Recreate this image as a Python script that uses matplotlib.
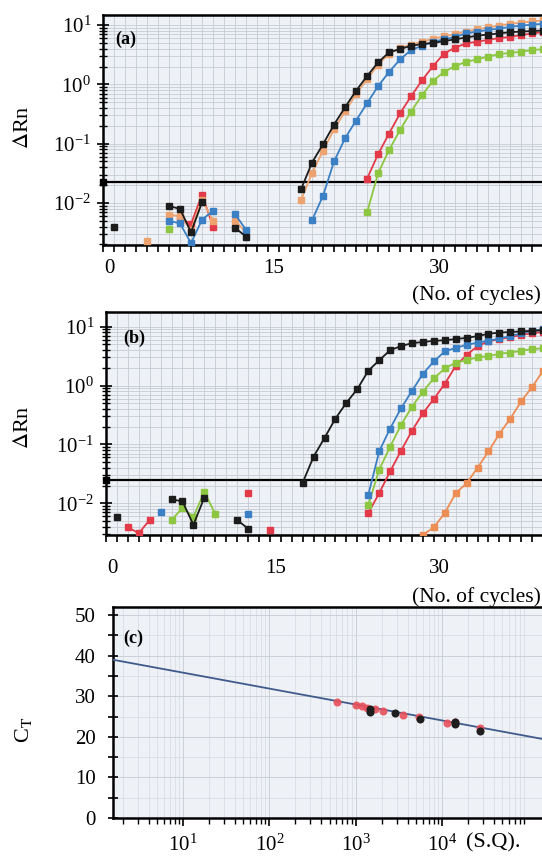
import numpy as np
import matplotlib
matplotlib.use('Agg')
import matplotlib.pyplot as plt
from matplotlib.ticker import LogLocator, NullFormatter, MultipleLocator, FixedLocator
import matplotlib.transforms as mtransforms

plt.rcParams['font.family'] = ['Liberation Serif', 'DejaVu Serif']
plt.rcParams['mathtext.fontset'] = 'stix'

nan = np.nan

# ---------------- data ----------------
cycles = [1, 2, 3, 4, 5, 6, 7, 8, 9, 10, 11, 12, 13, 14, 15, 16, 17, 18, 19, 20,
          21, 22, 23, 24, 25, 26, 27, 28, 29, 30, 31, 32, 33, 34, 35, 36, 37, 38, 39, 40]

# panel (a)  delta Rn per cycle (nan = not shown)
a_black = [0.0040, nan, nan, nan, nan, 0.0089, 0.0079, 0.0032, 0.0102, nan,
           nan, 0.0038, 0.0027, nan, nan, nan, nan, 0.017, 0.048, 0.098,
           0.21, 0.41, 0.78, 1.38, 2.34, 3.47, 3.94, 4.47, 4.79, 5.0,
           5.37, 5.75, 6.17, 6.61, 6.92, 7.24, 7.59, 7.76, 7.94, 8.1]
a_orange = [nan, nan, nan, 0.0023, nan, 0.0063, 0.0060, 0.0035, 0.0112, 0.0050,
            nan, 0.0050, 0.0032, nan, nan, nan, nan, 0.0112, 0.032, 0.076,
            0.174, 0.35, 0.68, 1.23, 2.14, 3.31, 4.07, 4.68, 5.25, 5.89,
            6.46, 7.08, 7.76, 8.51, 9.12, 9.77, 10.5, 11.0, 11.5, 12.0]
a_blue = [nan, nan, nan, nan, nan, 0.0050, 0.0045, 0.0021, 0.0052, 0.0074,
          nan, 0.0065, 0.0035, nan, nan, nan, nan, nan, 0.0051, 0.0132,
          0.050, 0.123, 0.245, 0.48, 0.93, 1.62, 2.63, 3.80, 4.47, 5.25,
          5.75, 6.31, 7.24, 7.76, 8.32, 8.71, 9.33, 9.77, 10.2, 10.5]
a_red = [nan, nan, nan, nan, nan, nan, 0.0056, 0.0044, 0.0138, 0.0040,
         nan, nan, nan, nan, nan, nan, nan, nan, nan, nan,
         nan, nan, nan, 0.0257, 0.066, 0.148, 0.324, 0.63, 1.17, 2.04,
         3.31, 4.17, 4.90, 5.25, 5.62, 6.03, 6.31, 6.76, 7.24, 7.6]
a_green = [nan, nan, nan, nan, nan, 0.0037, nan, nan, nan, nan,
           nan, nan, nan, nan, nan, nan, nan, nan, nan, nan,
           nan, nan, nan, 0.0069, 0.0316, 0.078, 0.170, 0.347, 0.66, 1.15,
           1.62, 2.04, 2.40, 2.63, 2.95, 3.24, 3.39, 3.55, 3.80, 3.9]
a_threshold = 0.0224

# panel (b)
b_black = [0.0058, nan, nan, nan, nan, 0.0117, 0.0107, 0.0043, 0.0125, nan,
           nan, 0.0052, 0.0037, nan, nan, nan, nan, 0.0224, 0.062, 0.129,
           0.275, 0.51, 0.87, 1.78, 2.69, 3.98, 4.68, 5.25, 5.50, 5.75,
           5.89, 6.17, 6.46, 6.92, 7.59, 7.94, 8.13, 8.32, 8.51, 8.7]
b_blue = [nan, nan, nan, nan, 0.0072, nan, nan, nan, nan, nan,
          nan, nan, 0.0065, nan, nan, nan, nan, nan, nan, nan,
          nan, nan, nan, 0.0138, 0.076, 0.186, 0.41, 0.81, 1.58, 2.57,
          3.80, 4.37, 4.90, 5.37, 5.75, 6.31, 6.92, 7.76, 8.51, 9.1]
b_green = [nan, nan, nan, nan, nan, 0.0052, 0.0083, 0.0059, 0.0155, 0.0066,
           nan, nan, nan, nan, nan, nan, nan, nan, nan, nan,
           nan, nan, nan, 0.0093, 0.037, 0.091, 0.214, 0.437, 0.79, 1.32,
           1.95, 2.45, 2.69, 3.02, 3.16, 3.47, 3.63, 3.89, 4.17, 4.3]
b_red = [nan, 0.0039, 0.0031, 0.0052, nan, nan, nan, nan, nan, nan,
         nan, nan, 0.0148, nan, 0.0035, nan, nan, nan, nan, nan,
         nan, nan, nan, 0.0068, 0.0148, 0.0347, 0.078, 0.170, 0.339, 0.59,
         1.07, 2.14, 3.31, 4.68, 5.62, 6.17, 6.61, 7.24, 7.76, 8.1]
b_orange = [nan, nan, nan, nan, nan, nan, nan, nan, nan, nan,
            nan, nan, nan, nan, nan, nan, nan, nan, nan, nan,
            nan, nan, nan, nan, nan, nan, nan, nan, 0.0029, 0.0039,
            0.0068, 0.0148, 0.0219, 0.040, 0.076, 0.151, 0.275, 0.54, 0.95, 1.78]
b_threshold = 0.025

# panel (c) standard curve
c_red_sq = [603, 1023, 1175, 1349, 1660, 2089, 3548, 5370, 11480, 14125, 27540]
c_red_ct = [28.5, 27.8, 27.5, 27.2, 26.8, 26.4, 25.4, 24.8, 23.3, 23.6, 22.1]
c_black_sq = [1479, 1479, 2884, 5623, 14125, 14125, 27540]
c_black_ct = [26.2, 26.8, 26.0, 24.5, 23.2, 23.7, 21.5]
c_line_sq = [1.545, 144500]
c_line_ct = [39.0, 19.5]

cycle_ticks = [0, 15, 30]
ct_ticks = [0, 10, 20, 30, 40, 50]
sq_ticks = [10, 100, 1000, 10000]

col = {'black': '#1c1c1c', 'orange': '#eda36f', 'blue': '#3b7fc4',
       'red': '#e23a48', 'green': '#8dc641', 'orange_b': '#ec8d55'}

# ---------------- figure ----------------
W, H = 542, 859
fig = plt.figure(figsize=(W / 100, H / 100), dpi=100)

def px_axes(left, top, bottom, right=542):
    return fig.add_axes([left / W, 1 - bottom / H, (right - left) / W, (bottom - top) / H])

ax_a = px_axes(103, 15, 245)
ax_b = px_axes(106, 312, 535)
ax_c = px_axes(113, 607, 818)

face = '#eef1f5'
gridc = '#c6cbd4'
TS = 15

def style_amp(ax, ylim, thr, xpad):
    ax.set_yscale('log')
    ax.set_xlim(0, 39.9)
    ax.set_ylim(*ylim)
    ax.set_facecolor(face)
    ax.xaxis.set_major_locator(FixedLocator(cycle_ticks))
    ax.xaxis.set_minor_locator(MultipleLocator(1))
    ax.yaxis.set_major_locator(LogLocator(base=10))
    ax.yaxis.set_minor_locator(LogLocator(base=10, subs=np.arange(2, 10)))
    ax.yaxis.set_minor_formatter(NullFormatter())
    ax.grid(which='both', color=gridc, lw=0.6)
    ax.set_axisbelow(True)
    for s in ['left', 'top', 'bottom']:
        ax.spines[s].set_linewidth(1.8)
    ax.spines['right'].set_visible(False)
    ax.tick_params(axis='x', which='both', direction='out', length=5, width=1.2,
                   labelsize=TS, pad=xpad)
    ax.tick_params(axis='y', which='major', direction='inout', length=9, width=1.2,
                   labelsize=TS, pad=4)
    ax.tick_params(axis='y', which='minor', direction='inout', length=6, width=1.0)
    ax.axhline(thr, color='black', lw=1.6, zorder=3)
    ax.plot([0], [thr], marker='s', ms=4, color='black', clip_on=False, zorder=5)
    off = mtransforms.ScaledTranslation(6 / 100, 0, fig.dpi_scale_trans)
    for lab in ax.get_xticklabels():
        lab.set_transform(lab.get_transform() + off)

def amp(ax, y, c):
    ax.plot(cycles, y, color=c, marker='s', ms=3.8, mec=c, mfc=c, lw=1.3, zorder=4)

style_amp(ax_a, (10 ** -2.71, 10 ** 1.17), a_threshold, 5)
for y, c in [(a_green, col['green']), (a_red, col['red']), (a_orange, col['orange']),
             (a_blue, col['blue']), (a_black, col['black'])]:
    amp(ax_a, y, c)

style_amp(ax_b, (10 ** -2.54, 10 ** 1.25), b_threshold, 12)
for y, c in [(b_orange, col['orange_b']), (b_red, col['red']), (b_green, col['green']),
             (b_blue, col['blue']), (b_black, col['black'])]:
    amp(ax_b, y, c)

ax_a.text(0.027, 0.896, '(a)', transform=ax_a.transAxes, fontsize=13,
          fontweight='bold', ha='left', va='center')
ax_b.text(0.039, 0.883, '(b)', transform=ax_b.transAxes, fontsize=13,
          fontweight='bold', ha='left', va='center')

# panel (c)
ax = ax_c
ax.set_xscale('log')
ax.set_xlim(c_line_sq[0], c_line_sq[1])
ax.set_ylim(0, 52)
ax.set_facecolor(face)
ax.xaxis.set_major_locator(FixedLocator(sq_ticks))
ax.xaxis.set_minor_locator(LogLocator(base=10, subs=np.arange(2, 10)))
ax.xaxis.set_minor_formatter(NullFormatter())
ax.yaxis.set_major_locator(FixedLocator(ct_ticks))
ax.yaxis.set_minor_locator(MultipleLocator(5))
ax.grid(which='major', color=gridc, lw=0.6)
ax.grid(which='minor', color='#d6dae1', lw=0.5)
ax.set_axisbelow(True)
for s in ['left', 'top', 'bottom']:
    ax.spines[s].set_linewidth(1.8)
ax.spines['right'].set_visible(False)
ax.tick_params(axis='x', which='major', direction='out', length=6, width=1.2,
               labelsize=TS, pad=6)
ax.tick_params(axis='x', which='minor', direction='out', length=4, width=1.0)
ax.tick_params(axis='y', which='both', direction='inout', length=7, width=1.2,
               labelsize=TS, pad=9)
ax.plot(c_line_sq, c_line_ct, color='#3f5b8c', lw=1.3, zorder=3)
ax.plot(c_red_sq, c_red_ct, 'o', color='#e8505a', ms=5.8, alpha=0.9, zorder=4, mec='none')
ax.plot(c_black_sq, c_black_ct, 'o', color='#1e1e1e', ms=5.8, zorder=5, mec='none')
ax.text(0.023, 0.853, '(c)', transform=ax.transAxes, fontsize=13,
        fontweight='bold', ha='left', va='center')

# axis titles
fig.text(23 / W, 1 - 127 / H, r'$\Delta$Rn', rotation=90, ha='center', va='center', fontsize=16)
fig.text(23 / W, 1 - 427 / H, r'$\Delta$Rn', rotation=90, ha='center', va='center', fontsize=16)
fig.text(24 / W, 1 - 730 / H, r'C$_\mathrm{T}$', rotation=90, ha='center', va='center', fontsize=16)
fig.text(541 / W, 1 - 295 / H, '(No. of cycles)', ha='right', va='center', fontsize=15.5)
fig.text(541 / W, 1 - 597 / H, '(No. of cycles)', ha='right', va='center', fontsize=15.5)
fig.text(466 / W, 1 - 843 / H, '(S.Q).', ha='left', va='center', fontsize=16)

fig.savefig('out.png', dpi=100)
